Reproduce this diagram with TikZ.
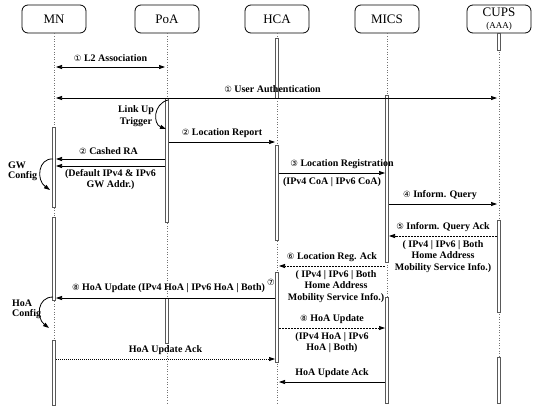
\documentclass[tikz,border=0pt]{standalone}
\usepackage{fontspec}
\setmainfont{Liberation Serif}
\newfontfamily\cnfont{DejaVu Sans}
\usetikzlibrary{arrows.meta}
\newcommand{\cn}[1]{{\cnfont\mdseries\fontsize{8.5}{9}\selectfont #1}}
\newcommand{\lbar}[3]{\draw[lifebar] ({#1-1.6},#2) rectangle ({#1+1.6},#3);}
\tikzset{
  actor/.style={draw, rounded corners=6pt, minimum width=64pt, minimum height=28pt,
    font=\fontsize{13}{13}\selectfont, line width=0.8pt, inner sep=1pt},
  lifebar/.style={draw=black!65, fill=white, line width=0.5pt},
  life/.style={draw=black!55, dotted, line width=0.6pt},
  msg/.style={line width=0.7pt, -{Triangle[length=6pt,width=4pt]}},
  bmsg/.style={line width=0.7pt, {Triangle[length=6pt,width=4pt]}-{Triangle[length=6pt,width=4pt]}},
  dmsg/.style={msg, dash pattern=on 2pt off 1pt},
  curv/.style={line width=0.8pt, -{Triangle[length=6pt,width=4pt]}},
  lbl/.style={font=\bfseries\fontsize{10}{11.5}\selectfont, inner sep=0pt, align=center},
  side/.style={font=\bfseries\fontsize{10}{10}\selectfont, inner sep=0pt, align=left},
}
\begin{document}
\begin{tikzpicture}[x=1pt,y=-1pt]
\useasboundingbox (0,0) rectangle (535,407);
% actors
\node[actor] (mn) at (54,19) {MN};
\node[actor] (poa) at (167,19) {PoA};
\node[actor] (hca) at (277,19) {HCA};
\node[actor] (mics) at (387,19) {MICS};
\node[actor, align=center] (cups) at (499,19) {CUPS\\[-1pt]{\fontsize{9}{9}\selectfont (AAA)}};
% lifelines
\coordinate (bottom) at (0,405);
\foreach \n in {mn,poa,hca,mics,cups} \draw[life] (\n.south) -- (\n.south |- bottom);
% activation bars
\lbar{54}{127}{207}
\lbar{54}{217}{300}
\lbar{54}{340}{405}
\lbar{167}{98}{222}
\lbar{167}{298}{343}
\lbar{277}{38}{98}
\lbar{277}{145}{240}
\lbar{277}{272}{362}
\lbar{387}{95}{262}
\lbar{387}{297}{403}
\lbar{499}{33}{50}
\lbar{499}{220}{312}
\lbar{499}{357}{403}
% message end points
\coordinate (l2a) at (56,67);   \coordinate (l2b) at (165,67);
\coordinate (uaa) at (56,98);   \coordinate (uab) at (497,98);
\coordinate (lu1) at (168,100); \coordinate (lu2) at (166,129);
\coordinate (lra) at (169,142); \coordinate (lrb) at (275,142);
\coordinate (ra1a) at (165,159); \coordinate (ra1b) at (56,159);
\coordinate (ra2a) at (165,166); \coordinate (ra2b) at (56,166);
\coordinate (gw1) at (53,159);  \coordinate (gw2) at (50,190);
\coordinate (lga) at (279,173); \coordinate (lgb) at (385,173);
\coordinate (iqa) at (389,204); \coordinate (iqb) at (497,204);
\coordinate (iaa) at (497,236); \coordinate (iab) at (389,236);
\coordinate (laa) at (385,266); \coordinate (lab) at (279,266);
\coordinate (hua) at (275,298); \coordinate (hub) at (56,298);
\coordinate (hc1) at (53,297);  \coordinate (hc2) at (49,328);
\coordinate (hma) at (279,328); \coordinate (hmb) at (385,328);
\coordinate (aka) at (56,359);  \coordinate (akb) at (275,359);
\coordinate (ama) at (385,382); \coordinate (amb) at (279,382);
% messages
\draw[bmsg] (l2a) -- node[lbl, above=5pt] {\cn{①} L2 Association} (l2b);
\draw[bmsg] (uaa) -- node[lbl, above=5pt, xshift=-4pt] {\cn{①} User Authentication} (uab);
\draw[curv] (lu1) .. controls (153,104) and (153,124) .. (lu2);
\node[lbl] (lut) at (136,116) {Link Up\\Trigger};
\draw[msg] (lra) -- node[lbl, above=4pt] {\cn{②} Location Report} (lrb);
\draw[msg] (ra1a) -- node[lbl, above=4pt, xshift=-2pt] {\cn{②} Cashed RA} (ra1b);
\draw[msg] (ra2a) -- node[lbl, below=3pt] {(Default IPv4 \& IPv6\\GW Addr.)} (ra2b);
\draw[curv] (gw1) .. controls (38,158) and (36,180) .. (gw2);
\node[side, anchor=north west] (gwt) at (8,162) {GW\\Config};
\draw[msg] (lga) -- node[lbl, above=4pt, xshift=10pt] {\cn{③} Location Registration} node[lbl, below=4pt] {(IPv4 CoA | IPv6 CoA)} (lgb);
\draw[msg] (iqa) -- node[lbl, above=4pt, xshift=-3pt] {\cn{④} Inform. Query} (iqb);
\draw[dmsg] (iaa) -- node[lbl, above=4pt] {\cn{⑤} Inform. Query Ack} node[lbl, below=4pt] {( IPv4 | IPv6 | Both\\Home Address\\Mobility Service Info.)} (iab);
\draw[dmsg] (laa) -- node[lbl, above=4pt] {\cn{⑥} Location Reg. Ack} node[lbl, below=4pt, xshift=4pt] {( IPv4 | IPv6 | Both\\Home Address\\Mobility Service Info.)} (lab);
\node[inner sep=0pt] (n7) at (271,282) {\cn{⑦}};
\draw[msg] (hua) -- node[lbl, above=5pt, xshift=3pt] {\cn{⑧} HoA Update (IPv4 HoA | IPv6 HoA | Both)} (hub);
\draw[curv] (hc1) .. controls (37,297) and (36,318) .. (hc2);
\node[side, anchor=north west] (hct) at (12,300) {HoA\\Config};
\draw[dmsg] (hma) -- node[lbl, above=4pt] {\cn{⑧} HoA Update} node[lbl, below=4pt] {(IPv4 HoA | IPv6\\HoA | Both)} (hmb);
\draw[msg, dash pattern=on 1pt off 1pt] (aka) -- node[lbl, above=4pt] {HoA Update Ack} (akb);
\draw[msg] (ama) -- node[lbl, above=4pt] {HoA Update Ack} (amb);
\end{tikzpicture}
\end{document}
